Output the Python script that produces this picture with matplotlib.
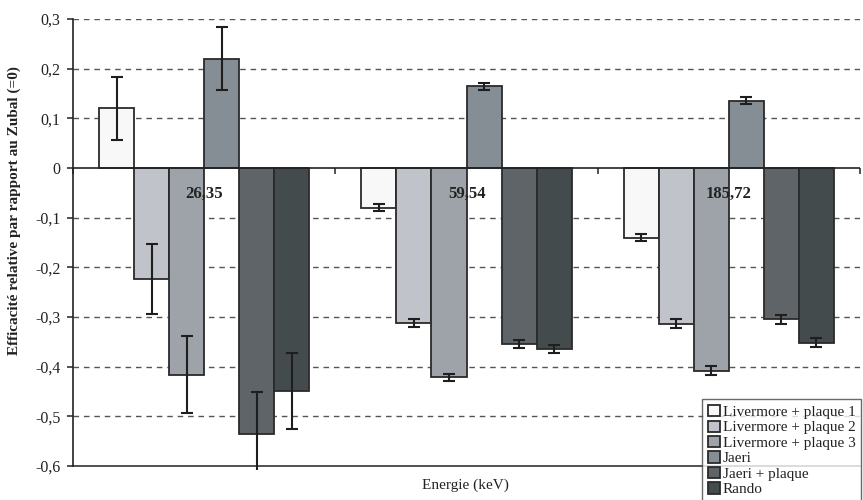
import matplotlib
matplotlib.use("Agg")
import matplotlib.pyplot as plt
import numpy as np
from matplotlib.transforms import Bbox, TransformedBbox

plt.rcParams['font.family'] = ['Liberation Serif', 'DejaVu Serif']

categories = ["26,35", "59,54", "185,72"]
series = ["Livermore + plaque 1", "Livermore + plaque 2", "Livermore + plaque 3",
          "Jaeri", "Jaeri + plaque", "Rando"]
colors = ["#f8f8f8", "#c0c3c9", "#9da3a8", "#868e95", "#5e6468", "#444b4d"]

values = {
    "Livermore + plaque 1": [0.120, -0.080, -0.140],
    "Livermore + plaque 2": [-0.223, -0.313, -0.314],
    "Livermore + plaque 3": [-0.416, -0.421, -0.408],
    "Jaeri": [0.220, 0.165, 0.135],
    "Jaeri + plaque": [-0.535, -0.355, -0.305],
    "Rando": [-0.449, -0.365, -0.352],
}
errors = {
    "Livermore + plaque 1": [0.063, 0.007, 0.007],
    "Livermore + plaque 2": [0.070, 0.008, 0.009],
    "Livermore + plaque 3": [0.077, 0.007, 0.009],
    "Jaeri": [0.063, 0.007, 0.007],
    "Jaeri + plaque": [0.083, 0.008, 0.009],
    "Rando": [0.077, 0.008, 0.009],
}
yticks = [0.3, 0.2, 0.1, 0, -0.1, -0.2, -0.3, -0.4, -0.5, -0.6]
ytick_labels = ["0,3", "0,2", "0,1", "0", "-0,1", "-0,2", "-0,3", "-0,4", "-0,5", "-0,6"]

fig = plt.figure(figsize=(8.63, 5.0), dpi=100)
ax = fig.add_axes([73/863, 1-466/500, (860-73)/863, (466-19)/500])

n = len(series)
bw = 35/262
x = np.arange(len(categories))
ax.set_xlim(-0.5, len(categories)-0.5)
ax.set_ylim(-0.6, 0.3)

for gy in yticks:
    if gy in (0, -0.6):
        continue
    ax.axhline(gy, color="#555555", lw=1.0, ls=(0, (4, 3.5)), zorder=0)
ax.axhline(-0.6, color="#333333", lw=1.2, zorder=0, clip_on=False)

clipbox = TransformedBbox(Bbox([[-0.5, -0.608], [2.5, 0.35]]), ax.transData)
for i, s in enumerate(series):
    pos = x + (i - (n-1)/2) * bw
    ax.bar(pos, values[s], bw, color=colors[i], edgecolor="#2a2a2a",
           linewidth=1.3, label=s, zorder=2)
    eb = ax.errorbar(pos, values[s], yerr=errors[s], fmt="none", ecolor="#1e1e1e",
                     elinewidth=1.5, capsize=4.5, capthick=1.5, zorder=3)
    for art in eb.lines[1] + eb.lines[2]:
        art.set_clip_on(True)
        art.set_clip_box(clipbox)

ax.axhline(0, color="#222222", lw=1.2, zorder=4)

for sp in ["top", "right"]:
    ax.spines[sp].set_visible(False)
ax.spines["left"].set_color("#222222")
ax.spines["left"].set_linewidth(1.2)

ax.set_yticks(yticks)
ax.set_yticklabels(ytick_labels, fontsize=11.5, color="#222222")
ax.tick_params(axis="y", direction="out", length=4, width=1.1, pad=5, color="#222222")

# category boundaries as major ticks on the zero line, labels at centers (minor)
ax.set_xticks(np.arange(len(categories)+1) - 0.5)
ax.set_xticklabels([])
ax.set_xticks(x, minor=True)
ax.set_xticklabels(categories, minor=True)
ax.tick_params(axis="x", which="major", direction="out", length=4, width=1.1, color="#222222")
ax.tick_params(axis="x", which="minor", length=0, pad=13)
ax.spines["bottom"].set_position(("data", 0))
ax.spines["bottom"].set_linewidth(0)
ax.xaxis.set_zorder(5)
ax.yaxis.set_zorder(5)
for lab in ax.get_xticklabels(minor=True):
    lab.set_fontweight("bold")
    lab.set_fontsize(12)
    lab.set_color("#222222")

fig.text(14/863, 1-211/500, "Efficacité relative par rapport au Zubal (=0)",
         rotation=90, ha="center", va="center", fontsize=11, fontweight="bold",
         color="#222222")
fig.text(465/863, 1-485/500, "Energie (keV)", ha="center", va="center",
         fontsize=11, color="#222222")

leg = fig.legend(loc="upper left", bbox_to_anchor=(702/863, 1-399/500),
                 fontsize=11, frameon=True, fancybox=False, borderpad=0.4,
                 handlelength=0.75, handleheight=0.75, handletextpad=0.2,
                 labelspacing=0.1, borderaxespad=0)
leg.get_frame().set_edgecolor("#444444")
leg.get_frame().set_linewidth(1.0)
for t in leg.get_texts():
    t.set_color("#222222")

fig.savefig("out.png", dpi=100)
